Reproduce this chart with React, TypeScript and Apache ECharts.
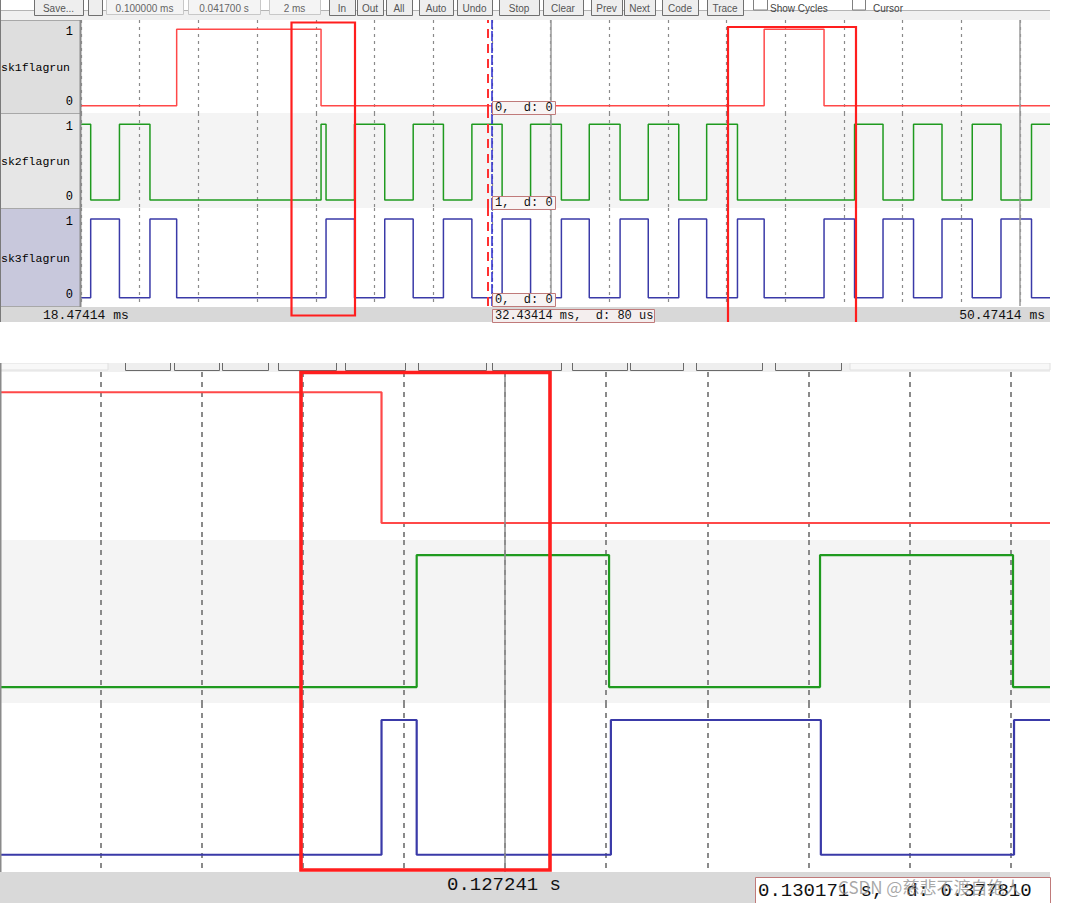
import React, { useEffect, useRef } from "react";
import * as echarts from "echarts";

// ---------------- data (times in ms, measured from the left edge of each view) ----------------
const signalNames = ["sk1flagrun", "sk2flagrun", "sk3flagrun"];
const levelLabels = ["1", "0"];

const topStartLabel = "18.47414 ms";
const topEndLabel = "50.47414 ms";
const topCursorLabel = "32.43414 ms,  d: 80 us";
const topCursorValues = ["0,  d: 0", "1,  d: 0", "0,  d: 0"];
const botCursorLabel = "0.127241 s";
const botCursor2Label = "0.130171 s,  d: 0.377810";
const watermark = "CSDN @慈悲不渡自绝人";

const topToolbarButtons = ["Save...", "", "In", "Out", "All", "Auto", "Undo", "Stop", "Clear", "Prev", "Next", "Code", "Trace"];
const topToolbarFields = ["0.100000 ms", "0.041700 s", "2 ms"];
const topToolbarTexts = ["Show Cycles", "Cursor"];

// top view: 18.47414 ms .. ~51.5 ms
const topSpanMs = 33.02;
const topGridMs = 2;
const topSolidMs = [16, 32];
const topCursorRedMs = 13.85;
const topCursorBlueMs = 13.98;

const topSk1Times = [0, 3.26, 8.18, 23.28, 25.32];
const topSk1Levels = [0, 1, 0, 1, 0];
const topSk2Times = [0, 0.33, 1.31, 2.35, 8.18, 8.35, 9.32, 10.35, 11.32, 12.35, 13.32, 14.35, 15.32, 16.37, 17.32, 18.37, 19.33, 20.37, 21.32, 22.37, 26.36, 27.33, 28.37, 29.34, 30.37, 31.35, 32.39];
const topSk2Levels = [1, 0, 1, 0, 1, 0, 1, 0, 1, 0, 1, 0, 1, 0, 1, 0, 1, 0, 1, 0, 1, 0, 1, 0, 1, 0, 1];
const topSk3Times = [0, 0.33, 1.31, 2.35, 3.26, 8.35, 9.32, 10.35, 11.32, 12.35, 13.32, 14.35, 15.32, 16.37, 17.32, 18.37, 19.33, 20.37, 21.32, 22.37, 23.28, 25.32, 26.36, 27.33, 28.37, 29.34, 30.37, 31.35, 32.39];
const topSk3Levels = [0, 1, 0, 1, 0, 1, 0, 1, 0, 1, 0, 1, 0, 1, 0, 1, 0, 1, 0, 1, 0, 1, 0, 1, 0, 1, 0, 1, 0];

// bottom (zoomed) view
const botSpanMs = 5.196;
const botGridMs = 0.5;
const botCursorMs = 2.5;
const botSk1Times = [0, 1.888];
const botSk1Levels = [1, 0];
const botSk2Times = [0, 2.062, 3.014, 4.058, 5.013];
const botSk2Levels = [0, 1, 0, 1, 0];
const botSk3Times = [0, 1.888, 2.062, 3.023, 4.062, 5.018];
const botSk3Levels = [0, 1, 0, 1, 0, 1];

// ---------------- layout / style ----------------
const W = 1076;
const H = 903;
const colors = ["#ff4848", "#1f9a1f", "#3a3aa8"];
const TOP = {
  left: 81,
  right: 1050,
  rows: [[20, 113], [113, 208], [208, 306]],
  yr: [[-0.0955, 1.122], [-0.106, 1.149], [-0.105, 1.14]],
};
const BOT = {
  left: 0,
  right: 1050,
  rows: [[372, 540], [540, 703], [703, 872]],
  yr: [[-0.13, 1.155], [-0.121, 1.114], [-0.128, 1.126]],
};
const topButtonX = [[34, 83], [88, 102], [329, 355], [357, 383], [386, 412], [419, 453], [457, 492], [499, 539], [543, 583], [591, 622], [624, 655], [662, 698], [707, 743]];
const topFieldX = [[106, 183], [188, 260], [269, 320]];
const topTextX = [770, 873];
const botButtonX = [[125, 170], [174, 219], [222, 268], [278, 336], [345, 405], [418, 486], [492, 561], [572, 627], [630, 683], [696, 762], [775, 841]];

const MONO = '"Liberation Mono", "DejaVu Sans Mono", monospace';

function toSteps(times: number[], levels: number[], end: number) {
  const d = times.map((t, i) => [t, levels[i]]);
  d.push([end, levels[levels.length - 1]]);
  return d;
}

export default function App() {
  const ref = useRef<HTMLDivElement>(null);
  useEffect(() => {
    if (!ref.current) return;
    const chart = echarts.init(ref.current, undefined, { renderer: "svg" });

    const topSeries = [
      toSteps(topSk1Times, topSk1Levels, topSpanMs),
      toSteps(topSk2Times, topSk2Levels, topSpanMs),
      toSteps(topSk3Times, topSk3Levels, topSpanMs),
    ];
    const botSeries = [
      toSteps(botSk1Times, botSk1Levels, botSpanMs),
      toSteps(botSk2Times, botSk2Levels, botSpanMs),
      toSteps(botSk3Times, botSk3Levels, botSpanMs),
    ];

    const grids: any[] = [];
    const xAxes: any[] = [];
    const yAxes: any[] = [];
    const series: any[] = [];

    const addPanel = (P: any, data: number[][][], span: number, step: number, dash: number[], dashW: number, lw: number, marks: any[]) => {
      P.rows.forEach((r: number[], i: number) => {
        const idx = grids.length;
        grids.push({
          left: P.left,
          top: r[0],
          width: P.right - P.left,
          height: r[1] - r[0],
          show: true,
          backgroundColor: i === 1 ? "#f4f4f4" : "#ffffff",
          borderWidth: 0,
        });
        xAxes.push({
          type: "value",
          gridIndex: idx,
          min: 0,
          max: span,
          interval: step,
          axisLine: { show: false },
          axisTick: { show: false },
          axisLabel: { show: false },
          splitLine: {
            show: true,
            showMaxLine: false,
            lineStyle: { color: "#8a8a8a", type: dash, width: dashW },
          },
        });
        yAxes.push({
          type: "value",
          gridIndex: idx,
          min: P.yr[i][0],
          max: P.yr[i][1],
          show: false,
          splitLine: { show: false },
        });
        series.push({
          type: "line",
          name: signalNames[i],
          xAxisIndex: idx,
          yAxisIndex: idx,
          data: data[i],
          step: "end",
          symbol: "none",
          silent: true,
          lineStyle: { color: colors[i], width: lw },
          markLine: {
            silent: true,
            symbol: ["none", "none"],
            label: { show: false },
            animation: false,
            data: marks,
          },
        });
      });
    };

    const topMarks = [
      ...topSolidMs.map((v) => ({ xAxis: v, lineStyle: { color: "#9a9a9a", type: "solid", width: 1.5 } })),
      { xAxis: topCursorRedMs, lineStyle: { color: "#ff3030", type: [9, 6], width: 2 } },
      { xAxis: topCursorBlueMs, lineStyle: { color: "#2a2ad0", type: [10, 2], width: 1.5 } },
    ];
    const botMarks = [{ xAxis: botCursorMs, lineStyle: { color: "#8c8c8c", type: "solid", width: 1.5 } }];

    addPanel(TOP, topSeries, topSpanMs, topGridMs, [3, 4], 1.2, 1.5, topMarks);
    addPanel(BOT, botSeries, botSpanMs, botGridMs, [5, 5], 2, 2.2, botMarks);

    // ---------------- graphics ----------------
    const g: any[] = [];
    const text = (t: string, x: number, y: number, font: string, align = "left", fill = "#000", z = 20) =>
      g.push({
        type: "text",
        x,
        y,
        z,
        silent: true,
        style: { text: t, font, fill, textAlign: align, textVerticalAlign: "middle", align, verticalAlign: "middle" },
      });
    const rect = (x: number, y: number, w: number, h: number, fill: string, stroke: string | null, lw = 1, z = 5) =>
      g.push({
        type: "rect",
        z,
        silent: true,
        shape: { x, y, width: w, height: h },
        style: { fill, stroke: stroke || "none", lineWidth: lw },
      });
    const line = (x1: number, y1: number, x2: number, y2: number, stroke: string, lw = 1, z = 6) =>
      g.push({ type: "line", z, silent: true, shape: { x1, y1, x2, y2 }, style: { stroke, lineWidth: lw } });

    // top toolbar
    rect(0, 11, 1050, 9, "#f0f0f0", null, 1, 1);
    line(0, 10.5, 1050, 10.5, "#b4b4b4", 1, 2);
    const tbFont = '10px "Liberation Sans", Arial';
    topButtonX.forEach((b, i) => {
      rect(b[0] + 0.5, -8, b[1] - b[0], 23.5, "#eeeeee", "#707070", 1, 3);
      if (topToolbarButtons[i]) text(topToolbarButtons[i], (b[0] + b[1]) / 2, 8, tbFont, "center", "#555", 4);
    });
    topFieldX.forEach((b, i) => {
      rect(b[0] + 0.5, -8, b[1] - b[0], 22.5, "#f4f4f4", "#c8c8c8", 1, 3);
      text(topToolbarFields[i], (b[0] + b[1]) / 2, 8, tbFont, "center", "#666", 4);
    });
    rect(753.5, -6, 14, 16, "#ffffff", "#808080", 1, 3);
    rect(852.5, -6, 13, 16, "#ffffff", "#808080", 1, 3);
    topTextX.forEach((x, i) => text(topToolbarTexts[i], x, 8, tbFont, "left", "#444", 4));

    // label panel
    const labelBg = ["#dedede", "#e6e6e6", "#c8c8dc"];
    TOP.rows.forEach((r, i) => {
      rect(0.5, r[0] + 0.5, 80, r[1] - r[0], labelBg[i], "#a8a8a8", 1, 3);
      text(signalNames[i], 1, (r[0] + r[1]) / 2 + 1, `11.5px ${MONO}`, "left", "#000", 4);
    });
    const levelY = [[32, 102], [127, 197], [222, 295]];
    levelY.forEach((ys) => {
      text(levelLabels[0], 73, ys[0], `12px ${MONO}`, "right", "#000", 4);
      text(levelLabels[1], 73, ys[1], `12px ${MONO}`, "right", "#000", 4);
    });
    line(80.5, 20, 80.5, 307, "#8a8a8a", 2, 4);
    line(0.5, 0, 0.5, 322, "#7a7a7a", 1, 4);

    // top status bar
    rect(0, 307, 1050, 15, "#d8d8d8", null, 1, 3);
    text(topStartLabel, 43, 315, `13px ${MONO}`, "left", "#111", 10);
    text(topEndLabel, 1045, 315, `13px ${MONO}`, "right", "#111", 10);
    rect(492.5, 309.5, 162, 13, "#f4eeee", "#c07a7a", 1, 12);
    text(topCursorLabel, 495, 316, `12px ${MONO}`, "left", "#111", 13);

    // top cursor value boxes
    const cursorBoxY = [101, 196, 293];
    cursorBoxY.forEach((y, i) => {
      rect(492.5, y + 0.5, 63, 13, "#f8f4f4", "#c07a7a", 1, 30);
      text(topCursorValues[i], 495, y + 7, `12px ${MONO}`, "left", "#111", 31);
    });

    // gap between panels (white) and bottom toolbar
    rect(0, 322, 1076, 41, "#ffffff", null, 1, 8);
    rect(0, 363, 1050, 9, "#f0f0f0", null, 1, 3);
    rect(0, 363, 108, 7, "#f8f8f8", "#e0e0e0", 1, 4);
    rect(850, 363, 200, 7, "#f8f8f8", "#e0e0e0", 1, 4);
    botButtonX.forEach((b) => rect(b[0] + 0.5, 352, b[1] - b[0], 18.5, "#eeeeee", "#6a6a6a", 1, 4));
    line(0.75, 363, 0.75, 872, "#8a8a8a", 1.5, 6);

    // bottom status bar
    rect(0, 872, 1050, 31, "#d9d9d9", null, 1, 3);
    text(botCursorLabel, 504, 885, `19px ${MONO}`, "center", "#111", 10);
    rect(755.5, 877.5, 295, 27, "#ffffff", "#c07a7a", 1, 12);
    text(botCursor2Label, 758, 891, `19px ${MONO}`, "left", "#111", 13);
    text(watermark, 838, 886, '17px "Noto Sans CJK SC", sans-serif', "left", "rgba(140,140,140,0.75)", 14);

    // red annotation boxes
    const red = "#ff1e1e";
    g.push({ type: "rect", z: 60, silent: true, shape: { x: 291.5, y: 22.5, width: 63.5, height: 293 }, style: { fill: "none", stroke: red, lineWidth: 2.2 } });
    g.push({ type: "polyline", z: 60, silent: true, shape: { points: [[728, 322], [728, 27], [856, 27], [856, 322]] }, style: { fill: "none", stroke: red, lineWidth: 2.2 } });
    g.push({ type: "rect", z: 60, silent: true, shape: { x: 301, y: 372.5, width: 249, height: 497.5 }, style: { fill: "none", stroke: red, lineWidth: 3.6 } });

    chart.setOption({
      animation: false,
      backgroundColor: "#ffffff",
      grid: grids,
      xAxis: xAxes,
      yAxis: yAxes,
      series,
      graphic: { elements: g },
    });

    return () => chart.dispose();
  }, []);

  return (
    <div
      ref={ref}
      style={{ position: "absolute", left: 0, top: 0, width: W, height: H, background: "#fff" }}
    />
  );
}
